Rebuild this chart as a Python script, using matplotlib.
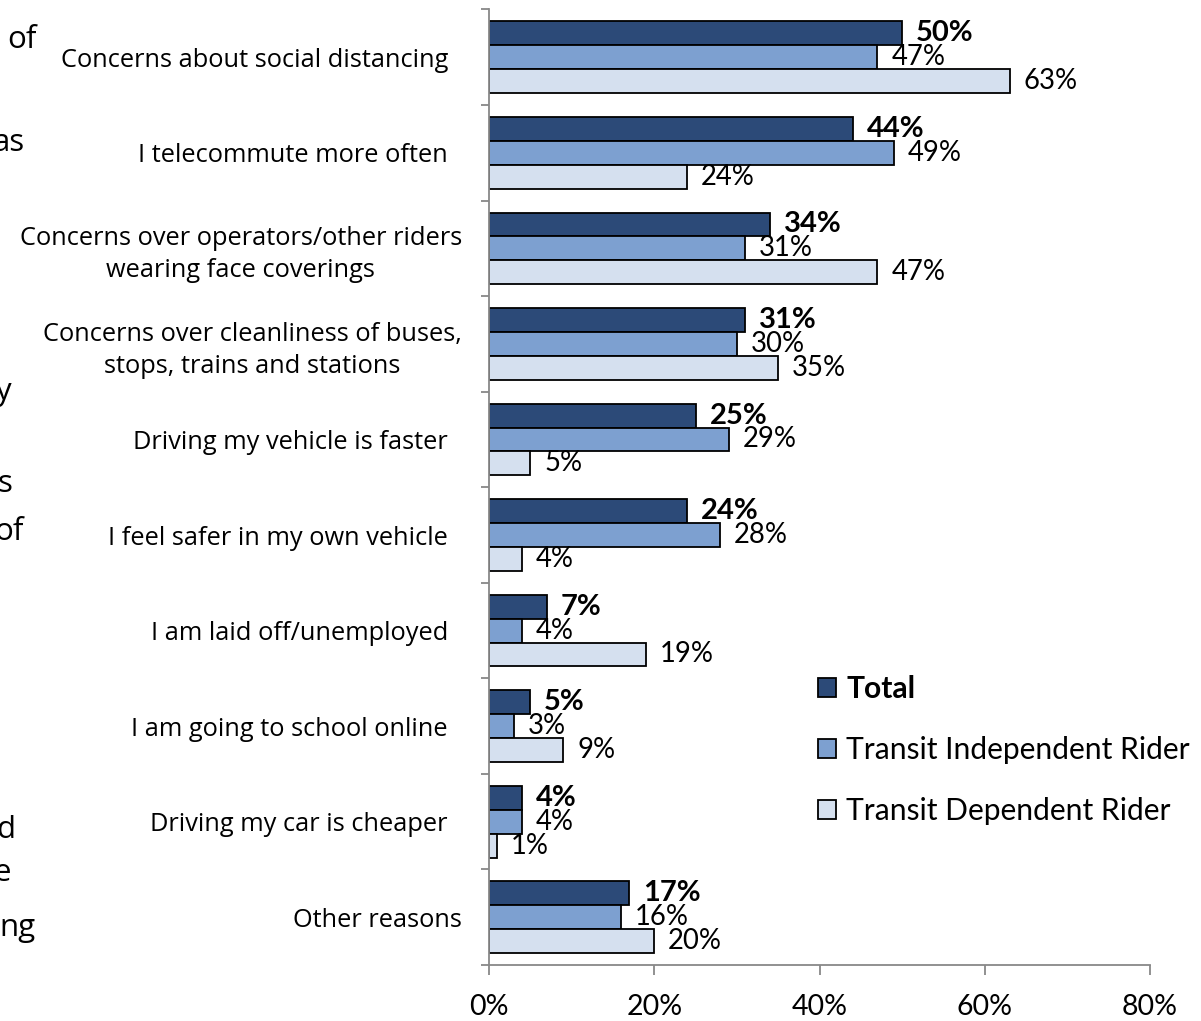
import matplotlib
matplotlib.use("Agg")
import matplotlib.pyplot as plt
import numpy as np

# reasons for not riding, share of respondents (%)
reasons = [
    "Concerns about social distancing ",
    "I telecommute more often ",
    "Concerns over operators/other riders\nwearing face coverings",
    "Concerns over cleanliness of buses,\nstops, trains and stations",
    "Driving my vehicle is faster ",
    "I feel safer in my own vehicle ",
    "I am laid off/unemployed ",
    "I am going to school online ",
    "Driving my car is cheaper ",
    "Other reasons",
]
total = [50, 44, 34, 31, 25, 24, 7, 5, 4, 17]
independent = [47, 49, 31, 30, 29, 28, 4, 3, 4, 16]
dependent = [63, 24, 47, 35, 5, 4, 19, 9, 1, 20]
series_names = ["Total", "Transit Independent Rider", "Transit Dependent Rider"]
xticks = [0, 20, 40, 60, 80]

# bits of the surrounding paragraph that show at the left edge
side_words = [("of", 37, 40), ("as", 25, 143), ("y", 11, 392), ("s", 12, 484),
              ("of", 24, 532), ("d", 15, 830), ("e", 11, 873), ("ng", 36, 928)]

colors = ["#2C4A78", "#7DA0D0", "#D5E0EF"]
axis_gray = "#888888"
lab_font = "Open Sans"
num_font = "Lato"

fig = plt.figure(figsize=(12.01, 10.21), dpi=100)
ax_w = 661 / 1201
ax = fig.add_axes([489 / 1201, 1 - 965 / 1021, ax_w, (965 - 9.5) / 1021])

centers = np.arange(len(reasons)) + 0.5
h = 0.25
groups = [total, independent, dependent]
for k, vals in enumerate(groups):
    bars = ax.barh(centers + (k - 1) * h, vals, height=h, color=colors[k],
                   edgecolor="black", linewidth=1.3, label=series_names[k])
    ax.bar_label(bars, labels=[f"{v}%" for v in vals], padding=10,
                 fontsize=21 if k == 0 else 19.8,
                 fontweight="bold" if k == 0 else "normal",
                 family=num_font)

ax.set_xlim(0, 80)
ax.set_ylim(len(reasons), 0)
ax.set_xticks(xticks)
ax.set_xticklabels([f"{t}%" for t in xticks], family=num_font, fontsize=20.5)
ax.tick_params(axis="x", direction="out", length=7, width=1.3, color=axis_gray, pad=14)

ax.set_yticks(centers)
ax.set_yticklabels([r.rstrip() for r in reasons], family=lab_font, fontsize=18.3,
                   multialignment="center", linespacing=1.35)
ax.set_yticks(np.arange(len(reasons) + 1), minor=True)
ax.tick_params(axis="y", which="major", length=0, pad=0)
ax.tick_params(axis="y", which="minor", direction="out", length=6, width=1.3, color=axis_gray)

# labels that carried a trailing space sit a little further from the axis
for lbl, raw in zip(ax.get_yticklabels(), reasons):
    gap = 41 if raw.endswith(" ") else 27
    lbl.set_ha("right")
    lbl.set_x(-gap / 661)
    lbl.set_transform(ax.get_yaxis_transform())

for side in ["top", "right"]:
    ax.spines[side].set_visible(False)
for side in ["left", "bottom"]:
    ax.spines[side].set_color(axis_gray)
    ax.spines[side].set_linewidth(1.3)

leg = ax.legend(loc="center left", bbox_to_anchor=((818 - 489) / 661, (965 - 750) / 955.5),
                frameon=False, prop={"family": num_font, "size": 21.6},
                handlelength=0.6, handleheight=0.6, handletextpad=0.35,
                labelspacing=1.1, borderpad=0, borderaxespad=0)
leg.get_texts()[0].set_fontweight("bold")

for word, xr, yc in side_words:
    fig.text(xr / 1201, 1 - yc / 1021, word, ha="right", va="center",
             family=lab_font, fontsize=22.5)

fig.savefig("out.png", dpi=100)
